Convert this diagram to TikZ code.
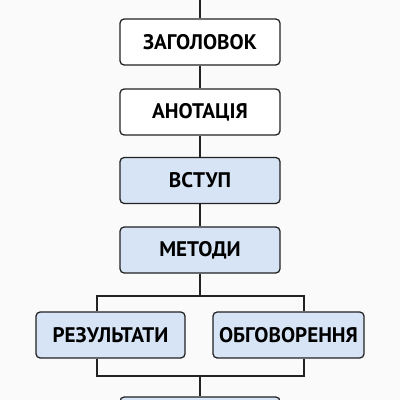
\documentclass[tikz,border=0pt]{standalone}
\usepackage{fontspec}
\setmainfont{PT Sans}
\usetikzlibrary{calc}
\definecolor{paper}{HTML}{FAFAFA}
\definecolor{secfill}{HTML}{D6E4F6}
\definecolor{edge}{HTML}{222222}
\tikzset{
  sec/.style={draw=edge, line width=0.9pt, rounded corners=3pt, fill=white,
    minimum width=4cm, minimum height=1.15cm, inner sep=0pt,
    font=\fontsize{15}{17}\selectfont\bfseries},
  core/.style={sec, fill=secfill},
  link/.style={draw=edge, line width=0.9pt}
}
\begin{document}
\begin{tikzpicture}[x=0.025cm, y=-0.025cm]
      \fill[paper] (0,0) rectangle (400,400);
      \useasboundingbox (0,0) rectangle (400,400);
      \clip (0,0) rectangle (400,400);
      \draw
        (200,42) node[sec] (title){ЗАГОЛОВОК}
        (200,112) node[sec] (abstract){АНОТАЦІЯ}
        (200,180.5) node[core] (intro){ВСТУП}
        (200,250) node[core] (methods){МЕТОДИ}
        (110.5,335) node[core, minimum width=3.725cm] (results){РЕЗУЛЬТАТИ}
        (288.5,335) node[core, minimum width=3.775cm] (discussion){ОБГОВОРЕННЯ}
        (200,420) node[core] (next){};
      \coordinate (top) at (200,-5);
      \coordinate (split) at (200,296);
      \coordinate (jl) at (97,296);
      \coordinate (jr) at (304,296);
      \coordinate (merge) at (200,376);
      \coordinate (ml) at (97,376);
      \coordinate (mr) at (304,376);
      \begin{scope}[link]
        \draw (top) to (title);
        \draw (title) to (abstract);
        \draw (abstract) to (intro);
        \draw (intro) to (methods);
        \draw (methods) to (split);
        \draw (jl |- results.north) -- (jl) -- (jr) -- (jr |- discussion.north);
        \draw (ml |- results.south) -- (ml) -- (mr) -- (mr |- discussion.south);
        \draw (merge) to (next);
      \end{scope}
    \end{tikzpicture}
\end{document}
